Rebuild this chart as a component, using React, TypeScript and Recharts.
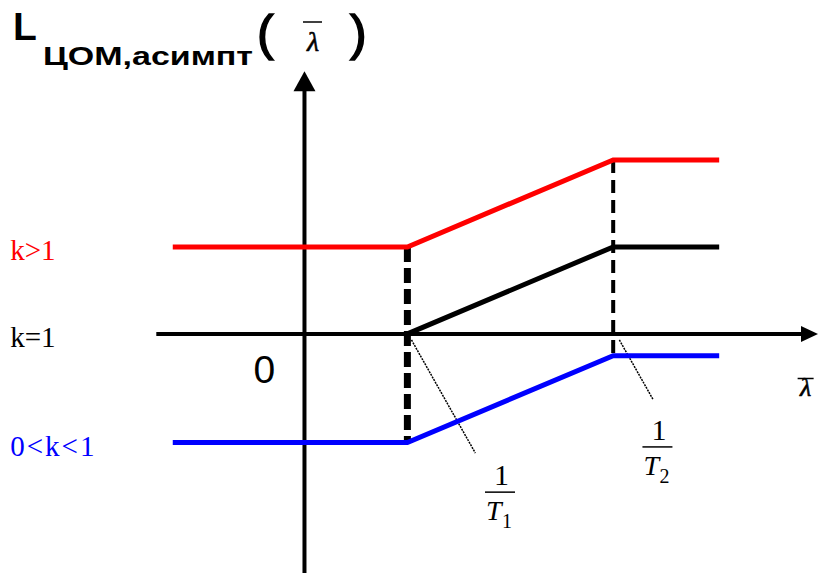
import {
  LineChart,
  Line,
  XAxis,
  YAxis,
  ReferenceLine,
  ReferenceDot,
} from "recharts";

// Breakpoints on the λ axis (1/T1, 1/T2) and line ends
const breakX = [1, 3];
const lineStartX = -1.28;
const lineEndX = 4.03;

// Asymptotic LAFC levels for each k
const redX = [lineStartX, breakX[0], breakX[1], lineEndX];
const redY = [1, 1, 2, 2];
const blackX = [breakX[0], breakX[1], lineEndX];
const blackY = [0, 1, 1];
const blueX = [lineStartX, breakX[0], breakX[1], lineEndX];
const blueY = [-1.25, -1.25, -0.25, -0.25];

// Labels on the left side
const kLabels = ["k>1", "k=1", "0<k<1"];
const kLevels = [1, 0, -1.25];
const kColors = ["#ff0000", "#000000", "#0000ff"];

// Leader lines from the breakpoints to the fraction labels
const leader1X = [1.04, 1.66];
const leader1Y = [-0.07, -1.37];
const leader2X = [3.06, 3.39];
const leader2Y = [-0.07, -0.76];
const fracSubs = ["1", "2"];
const fracX = [1.9, 3.43];
const fracY = [-1.82, -1.3];

const toRows = (xs: number[], ys: number[]) => xs.map((x, i) => ({ x, y: ys[i] }));

const SERIF = "'Liberation Serif', 'DejaVu Serif', serif";
const SANS = "'Liberation Sans', Arial, sans-serif";

const ArrowRight = (p: any) => (
  <polygon points={`${p.cx},${p.cy} ${p.cx - 17},${p.cy - 8} ${p.cx - 17},${p.cy + 8}`} fill="#000" />
);
const ArrowUp = (p: any) => (
  <polygon points={`${p.cx},${p.cy} ${p.cx - 11},${p.cy + 20} ${p.cx + 11},${p.cy + 20}`} fill="#000" />
);

const fraction = (sub: string) => (p: any) => (
  <g>
    <text x={p.cx - 6} y={p.cy - 7} fontFamily={SERIF} fontSize={30}>1</text>
    <line x1={p.cx - 15} x2={p.cx + 15} y1={p.cy} y2={p.cy} stroke="#000" strokeWidth={1.5} />
    <text x={p.cx - 14} y={p.cy + 28} fontFamily={SERIF} fontSize={28} fontStyle="italic">T</text>
    <text x={p.cx + 2} y={p.cy + 36} fontFamily={SERIF} fontSize={20}>{sub}</text>
  </g>
);

const kLabel = (text: string, color: string) => (p: any) => (
  <text x={p.cx} y={p.cy + 13} fontFamily={SERIF} fontSize={29} fill={color} letterSpacing={text.length > 3 ? 2 : 0}>
    {text}
  </text>
);

const LambdaBar = (p: any) => (
  <g>
    <line x1={p.cx - 8} x2={p.cx + 8} y1={p.cy - 18} y2={p.cy - 18} stroke="#000" strokeWidth={1.5} />
    <text x={p.cx} y={p.cy} textAnchor="middle" fontFamily={SERIF} fontStyle="italic" fontSize={26} stroke="#000" strokeWidth={0.6}>λ</text>
  </g>
);

const Zero = (p: any) => (
  <text x={p.cx} y={p.cy} textAnchor="middle" fontFamily={SANS} fontSize={39}>0</text>
);

export default function App() {
  return (
    <div style={{ position: "absolute", left: 0, top: 0, width: 819, height: 573, background: "#fff" }}>
      <LineChart width={819} height={573} margin={{ top: 0, right: 0, bottom: 0, left: 4 }}>
        <XAxis type="number" dataKey="x" domain={[-2.92, 5]} hide allowDataOverflow />
        <YAxis type="number" dataKey="y" domain={[-2.75, 3.84]} hide allowDataOverflow />

        {/* coordinate axes */}
        <ReferenceLine segment={[{ x: -1.44, y: 0 }, { x: 4.84, y: 0 }]} stroke="#000" strokeWidth={4} />
        <ReferenceDot x={4.99} y={0} shape={ArrowRight} />
        <ReferenceLine segment={[{ x: 0, y: -2.75 }, { x: 0, y: 2.8 }]} stroke="#000" strokeWidth={4} />
        <ReferenceDot x={0} y={3.02} shape={ArrowUp} />

        {/* projections of the breakpoints */}
        <ReferenceLine
          segment={[{ x: breakX[0], y: redY[1] }, { x: breakX[0], y: blueY[1] }]}
          stroke="#000"
          strokeWidth={7}
          strokeDasharray="15 6"
        />
        <ReferenceLine
          segment={[{ x: breakX[1], y: redY[2] }, { x: breakX[1], y: blueY[2] }]}
          stroke="#000"
          strokeWidth={4}
          strokeDasharray="13 7"
        />

        <Line data={toRows(leader1X, leader1Y)} dataKey="y" stroke="#000" strokeWidth={1.5} strokeDasharray="2 1" dot={false} isAnimationActive={false} />
        <Line data={toRows(leader2X, leader2Y)} dataKey="y" stroke="#000" strokeWidth={1.5} strokeDasharray="2 1" dot={false} isAnimationActive={false} />

        <Line data={toRows(redX, redY)} dataKey="y" stroke="#ff0000" strokeWidth={5} dot={false} isAnimationActive={false} />
        <Line data={toRows(blackX, blackY)} dataKey="y" stroke="#000" strokeWidth={5} dot={false} isAnimationActive={false} />
        <Line data={toRows(blueX, blueY)} dataKey="y" stroke="#0000ff" strokeWidth={5} dot={false} isAnimationActive={false} />

        {kLabels.map((t, i) => (
          <ReferenceDot key={t} x={-2.86} y={kLevels[i]} shape={kLabel(t, kColors[i])} />
        ))}
        {fracSubs.map((s, i) => (
          <ReferenceDot key={s} x={fracX[i]} y={fracY[i]} shape={fraction(s)} />
        ))}
        <ReferenceDot x={-0.39} y={-0.56} shape={Zero} />
        <ReferenceDot x={4.87} y={-0.72} shape={LambdaBar} />
      </LineChart>

      <svg width={819} height={90} style={{ position: "absolute", left: 0, top: 0, pointerEvents: "none" }}>
        <text x={13} y={40} fontFamily={SANS} fontWeight="bold" fontSize={39}>L</text>
        <text x={43} y={65} fontFamily={SANS} fontWeight="bold" fontSize={25} textLength={210} lengthAdjust="spacingAndGlyphs">
          ЦОМ,асимпт
        </text>
        <text x={257} y={50} fontFamily={SANS} fontSize={50} stroke="#000" strokeWidth={1.5}>(</text>
        <line x1={303} x2={322} y1={22} y2={22} stroke="#000" strokeWidth={1.5} />
        <text x={313} y={51} textAnchor="middle" fontFamily={SERIF} fontStyle="italic" fontSize={28} stroke="#000" strokeWidth={0.6}>λ</text>
        <text x={350} y={50} fontFamily={SANS} fontSize={50} stroke="#000" strokeWidth={1.5}>)</text>
      </svg>
    </div>
  );
}
